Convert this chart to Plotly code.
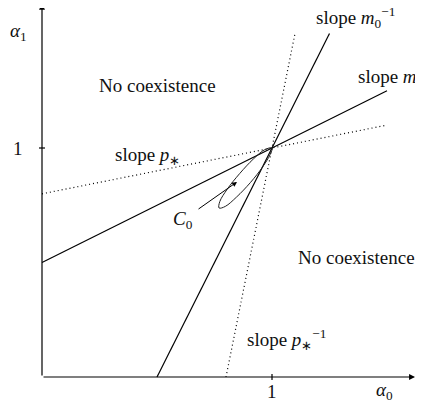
import plotly.graph_objects as go

# ---- data ----
# straight lines through (1, 1)
line_m0_x = [0.0, 1.5]          # slope m0 (solid)
line_m0_y = [0.5, 1.25]
line_m0inv_x = [0.5, 1.25]      # slope m0^-1 (solid)
line_m0inv_y = [0.0, 1.5]
line_p_x = [0.0, 1.5]           # slope p* (dotted)
line_p_y = [0.8, 1.1]
line_pinv_x = [0.8, 1.1]        # slope p*^-1 (dotted)
line_pinv_y = [0.0, 1.5]

# closed curve C0
loop_x = [1.0, 0.992, 0.959, 0.906, 0.846, 0.797, 0.770, 0.773, 0.806, 0.860,
          0.919, 0.969, 1.0]
loop_y = [1.0, 0.972, 0.917, 0.849, 0.786, 0.745, 0.738, 0.766, 0.821, 0.889,
          0.952, 0.993, 1.0]

# arrow pointing at C0 (tail, head)
c0_arrow_tail = (0.674, 0.729)
c0_arrow_head = (0.848, 0.852)

x_ticks = [1]
y_ticks = [1]
x_tick_labels = ["1"]
y_tick_labels = ["1"]

# ---- figure ----
# the page body adds an 8px margin, so the figure is 8px smaller and origin shifted
W, H = 415, 394
OX, OY = 34, 369          # pixel position of the origin inside the figure
SX, SY = 230, 229         # pixels per unit
x_range = [-OX / SX, (W - OX) / SX]
y_range = [-(H - OY) / SY, OY / SY]

FONT = dict(family="Liberation Serif, Times New Roman, serif", size=19, color="#111")

fig = go.Figure()
solid = dict(color="black", width=1.2)
dotted = dict(color="black", width=1.2, dash="1px,3px")

fig.add_trace(go.Scatter(x=line_m0_x, y=line_m0_y, mode="lines", line=solid))
fig.add_trace(go.Scatter(x=line_m0inv_x, y=line_m0inv_y, mode="lines", line=solid))
fig.add_trace(go.Scatter(x=line_p_x, y=line_p_y, mode="lines", line=dotted))
fig.add_trace(go.Scatter(x=line_pinv_x, y=line_pinv_y, mode="lines", line=dotted))
fig.add_trace(go.Scatter(x=loop_x, y=loop_y, mode="lines",
                         line=dict(color="#222", width=1, shape="spline", smoothing=1)))

annotations = []
# axes with arrowheads
annotations.append(dict(x=1.622, y=0, ax=0, ay=0, xref="x", yref="y", axref="x", ayref="y",
                        text="", showarrow=True, arrowhead=2, arrowsize=1, arrowwidth=1.2,
                        arrowcolor="black"))
annotations.append(dict(x=0, y=1.63, ax=0, ay=0, xref="x", yref="y", axref="x", ayref="y",
                        text="", showarrow=True, arrowhead=2, arrowsize=1, arrowwidth=1.2,
                        arrowcolor="black"))
# C0 arrow
annotations.append(dict(x=c0_arrow_head[0], y=c0_arrow_head[1],
                        ax=c0_arrow_tail[0], ay=c0_arrow_tail[1],
                        xref="x", yref="y", axref="x", ayref="y",
                        text="", showarrow=True, arrowhead=2, arrowsize=1, arrowwidth=1,
                        arrowcolor="black"))


def label(x, y, text, xanchor="center"):
    annotations.append(dict(x=x, y=y, xref="x", yref="y", text=text, showarrow=False,
                            font=FONT, xanchor=xanchor, yanchor="middle"))


label(0.5, 1.275, "No coexistence")
label(1.366, 0.524, "No coexistence")
label(0.457, 0.965, "slope <i>p</i><sub>∗</sub>")
label(1.361, 1.568, "slope <i>m</i><sub>0</sub><sup>−1</sup>")
label(1.365, 1.306, "slope <i>m</i><sub>0</sub>", xanchor="left")
label(1.065, 0.162, "slope <i>p</i><sub>∗</sub><sup>−1</sup>")
label(0.613, 0.686, "<i>C</i><sub>0</sub>")
label(-0.104, 1.507, "<i>α</i><sub>1</sub>")
label(1.491, -0.062, "<i>α</i><sub>0</sub>")
for t, s in zip(x_ticks, x_tick_labels):
    label(t, -0.062, s)
for t, s in zip(y_ticks, y_tick_labels):
    label(-0.104, t, s)

shapes = []
for t in x_ticks:
    shapes.append(dict(type="line", xref="x", yref="y", x0=t, x1=t, y0=-0.013, y1=0.013,
                       line=dict(color="black", width=1.2)))
for t in y_ticks:
    shapes.append(dict(type="line", xref="x", yref="y", x0=-0.013, x1=0.013, y0=t, y1=t,
                       line=dict(color="black", width=1.2)))

fig.update_layout(
    width=W, height=H, autosize=False,
    margin=dict(l=0, r=0, t=0, b=0),
    paper_bgcolor="white", plot_bgcolor="white",
    showlegend=False,
    xaxis=dict(range=x_range, visible=False, fixedrange=True),
    yaxis=dict(range=y_range, visible=False, fixedrange=True),
    annotations=annotations,
    shapes=shapes,
)

fig.write_html("out.html")
